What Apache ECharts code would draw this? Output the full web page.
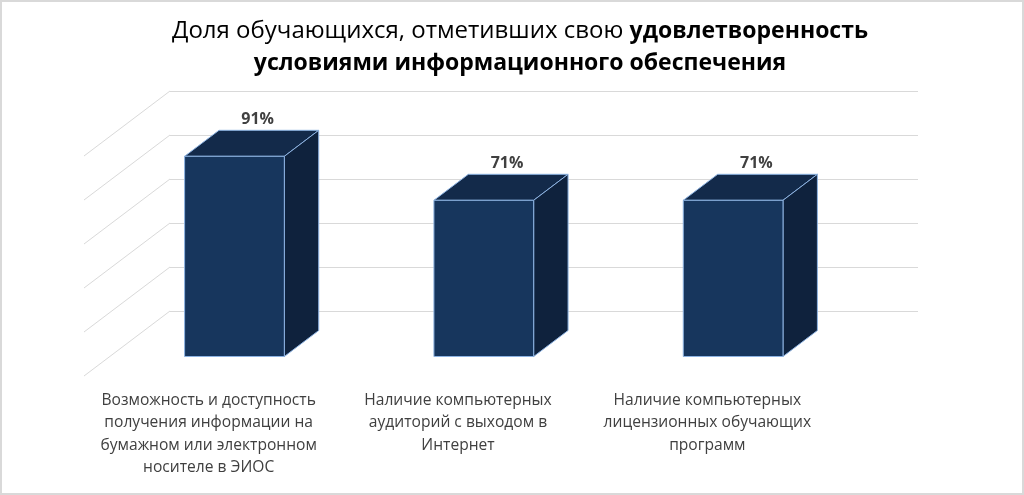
<!DOCTYPE html>
<html>
<head>
<meta charset="UTF-8">
<script type="text/javascript" src="https://cdn.jsdelivr.net/npm/echarts@6/dist/echarts.min.js"></script>
<title>Доля обучающихся</title>
<style>
	html, body { margin: 0; padding: 0; background: #fff; }
	#main { width: 1024px; height: 495px; }
</style>
</head>
<body>
	<div id="main"></div>
<script type="text/javascript">
	var categories = [
		"Возможность и доступность\nполучения информации на\nбумажном или электронном\nносителе в ЭИОС",
		"Наличие компьютерных\nаудиторий с выходом в\nИнтернет",
		"Наличие компьютерных\nлицензионных обучающих\nпрограмм"
	];
	var values = [91, 71, 71];
	var yTicks = [0, 20, 40, 60, 80, 100];

	// depth of the floor, pixels (the 3d look)
	var DX = -86, DY = 65;
	var FONT = "'Open Sans', sans-serif";

	function renderDiag(params, api){
		var y = api.coord([0, api.value(1)])[1];
		var x0 = params.coordSys.x;
		return {
			type: "line",
			shape: {x1: x0, y1: y, x2: x0 + DX, y2: y + DY},
			style: {stroke: "#d9d9d9", lineWidth: 1}
		};
	}

	function renderBar(params, api){
		var cat = api.value(0), v = api.value(1);
		var base = api.coord([cat, 0]);
		var top = api.coord([cat, v]);
		var w = api.size([1, 0])[0] * 0.4;
		var fl = base[0] + DX * 0.7 - w / 2;
		var ft = top[1] + DY * 0.7;
		var fb = base[1] + DY * 0.7;
		var bl = base[0] + DX * 0.3 - w / 2;
		var bt = top[1] + DY * 0.3;
		var bb = base[1] + DY * 0.3;
		var edge = "#8db3e2";
		return {
			type: "group",
			children: [
				{
					type: "polygon",
					shape: {points: [[fl, ft], [fl + w, ft], [bl + w, bt], [bl, bt]]},
					style: {fill: "#132a4a", stroke: edge, lineWidth: 1}
				},
				{
					type: "polygon",
					shape: {points: [[fl + w, ft], [bl + w, bt], [bl + w, bb], [fl + w, fb]]},
					style: {fill: "#0f223d", stroke: edge, lineWidth: 1}
				},
				{
					type: "rect",
					shape: {x: fl, y: ft, width: w, height: fb - ft},
					style: {fill: "#17365d", stroke: edge, lineWidth: 1}
				},
				{
					type: "text",
					x: (fl + bl) / 2 + w / 2 + 6,
					y: bt - 11,
					style: {
						text: v + "%",
						fill: "#404040",
						font: "bold 16px " + FONT,
						align: "center",
						verticalAlign: "middle"
					}
				}
			]
		};
	}

	var myChart = echarts.init(document.getElementById("main"));
	var option = {
		backgroundColor: "#fff",
		animation: false,
		title: {
			left: 520,
			textAlign: "center",
			top: 15,
			padding: 0,
			text: "{n|Доля обучающихся, отметивших свою }{b|удовлетворенность}\n{b|условиями информационного обеспечения}",
			textStyle: {
				fontWeight: "normal",
				rich: {
					n: {fontSize: 24, fontFamily: FONT, fontWeight: "normal", color: "#000", lineHeight: 32},
					b: {fontSize: 23, fontFamily: FONT, fontWeight: "bold", color: "#000", lineHeight: 32}
				}
			}
		},
		graphic: [{
			type: "rect",
			shape: {x: 1, y: 1, width: 1022, height: 493},
			style: {fill: null, stroke: "#d9d9d9", lineWidth: 2},
			silent: true
		}],
		grid: [
			{left: 170, right: 106, top: 91, bottom: 184},
			{left: 84, right: 192, top: 156, bottom: 119}
		],
		xAxis: [
			{
				type: "category", gridIndex: 0, data: categories,
				axisLine: {show: false}, axisTick: {show: false}, axisLabel: {show: false}
			},
			{
				type: "category", gridIndex: 1, data: categories,
				axisLine: {show: false}, axisTick: {show: false},
				axisLabel: {
					margin: 13, interval: 0, fontSize: 15.6, lineHeight: 22.5,
					fontFamily: FONT, color: "#404040"
				}
			}
		],
		yAxis: [
			{
				type: "value", gridIndex: 0, min: 0, max: 100, interval: 20,
				axisLine: {show: false}, axisTick: {show: false}, axisLabel: {show: false},
				splitLine: {lineStyle: {color: "#d9d9d9", width: 1}}
			},
			{type: "value", gridIndex: 1, min: 0, max: 100, show: false}
		],
		series: [
			{
				type: "custom", name: "grid", silent: true,
				xAxisIndex: 0, yAxisIndex: 0,
				renderItem: renderDiag,
				data: yTicks.map(function(t){ return [0, t]; })
			},
			{
				type: "custom", name: "Доля",
				xAxisIndex: 0, yAxisIndex: 0,
				renderItem: renderBar,
				data: values.map(function(v, i){ return [i, v]; })
			}
		]
	};
	myChart.setOption(option);
</script>
</body>
</html>
